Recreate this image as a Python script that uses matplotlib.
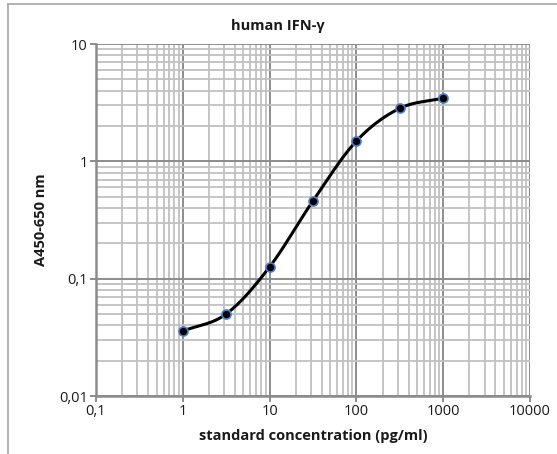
import numpy as np
import matplotlib.pyplot as plt
from matplotlib.ticker import FixedLocator, LogLocator, NullFormatter

# standard curve values
conc = [1, 3.16, 10, 31.6, 100, 316, 1000]
absorb = [0.0358, 0.050, 0.126, 0.46, 1.49, 2.83, 3.45]
xticks = [0.1, 1, 10, 100, 1000, 10000]
xlabels = ['0,1', '1', '10', '100', '1000', '10000']
yticks = [0.01, 0.1, 1, 10]
ylabels = ['0,01', '0,1', '1', '10']


def smooth(xs, ys, n=30):
    # catmull-rom through the points, done in log-log space
    px = np.log10(xs)
    py = np.log10(ys)
    px = np.concatenate([[2 * px[0] - px[1]], px, [2 * px[-1] - px[-2]]])
    py = np.concatenate([[2 * py[0] - py[1]], py, [2 * py[-1] - py[-2]]])
    outx, outy = [], []
    t = np.linspace(0, 1, n)
    for i in range(1, len(px) - 2):
        for p, out in ((px, outx), (py, outy)):
            p0, p1, p2, p3 = p[i - 1], p[i], p[i + 1], p[i + 2]
            seg = 0.5 * ((2 * p1) + (-p0 + p2) * t
                         + (2 * p0 - 5 * p1 + 4 * p2 - p3) * t ** 2
                         + (-p0 + 3 * p1 - 3 * p2 + p3) * t ** 3)
            out.extend(seg)
    return 10 ** np.array(outx), 10 ** np.array(outy)


plt.rcParams['font.family'] = ['Open Sans', 'DejaVu Sans']

fig = plt.figure(figsize=(5.57, 4.54), dpi=100)
ax = fig.add_axes([96 / 557, 58 / 454, 434 / 557, 352 / 454])

# outer chart frame (cut off on the right and bottom)
fig.add_artist(plt.Line2D([8 / 557, 8 / 557], [0, 1 - 4 / 454], color='#a6a6a6', lw=1.2))
fig.add_artist(plt.Line2D([8 / 557, 1], [1 - 4 / 454, 1 - 4 / 454], color='#a6a6a6', lw=1.2))

ax.set_xscale('log')
ax.set_yscale('log')
ax.set_xlim(0.1, 10000)
ax.set_ylim(0.01, 10)

ax.xaxis.set_major_locator(FixedLocator(xticks))
ax.yaxis.set_major_locator(FixedLocator(yticks))
ax.set_xticklabels(xlabels)
ax.set_yticklabels(ylabels)
ax.xaxis.set_minor_locator(LogLocator(base=10, subs=np.arange(2, 10)))
ax.yaxis.set_minor_locator(LogLocator(base=10, subs=np.arange(2, 10)))
ax.xaxis.set_minor_formatter(NullFormatter())
ax.yaxis.set_minor_formatter(NullFormatter())

ax.grid(which='minor', color='#c0c0c0', lw=1.3)
ax.grid(which='major', color='#8c8c8c', lw=1.4)
ax.set_axisbelow(True)

for side in ['top', 'right']:
    ax.spines[side].set_visible(False)
for side in ['left', 'bottom']:
    ax.spines[side].set_color('#8c8c8c')
    ax.spines[side].set_linewidth(1.8)

ax.tick_params(which='major', length=4, width=1.4, color='#8c8c8c',
               labelsize=10.5, labelcolor='#1a1a1a', pad=2)
ax.tick_params(which='minor', length=0)

sx, sy = smooth(conc, absorb)
ax.plot(sx, sy, color='black', lw=2.2, zorder=3)
ax.plot(conc, absorb, 'o', ms=6.5, mfc='black', mec='#4a7ecb', mew=1.2, zorder=4)

fig.text(278 / 557, 1 - 26 / 454, 'human IFN-γ', ha='center', va='center',
         fontsize=10.5, fontweight='bold', color='#1a1a1a')
ax.set_xlabel('standard concentration (pg/ml)', fontsize=10.5, fontweight='bold',
              color='#1a1a1a', labelpad=7)
ax.set_ylabel('A450-650 nm', fontsize=10.5, fontweight='bold', color='#1a1a1a',
              labelpad=8)

fig.savefig('out.png', dpi=100)
